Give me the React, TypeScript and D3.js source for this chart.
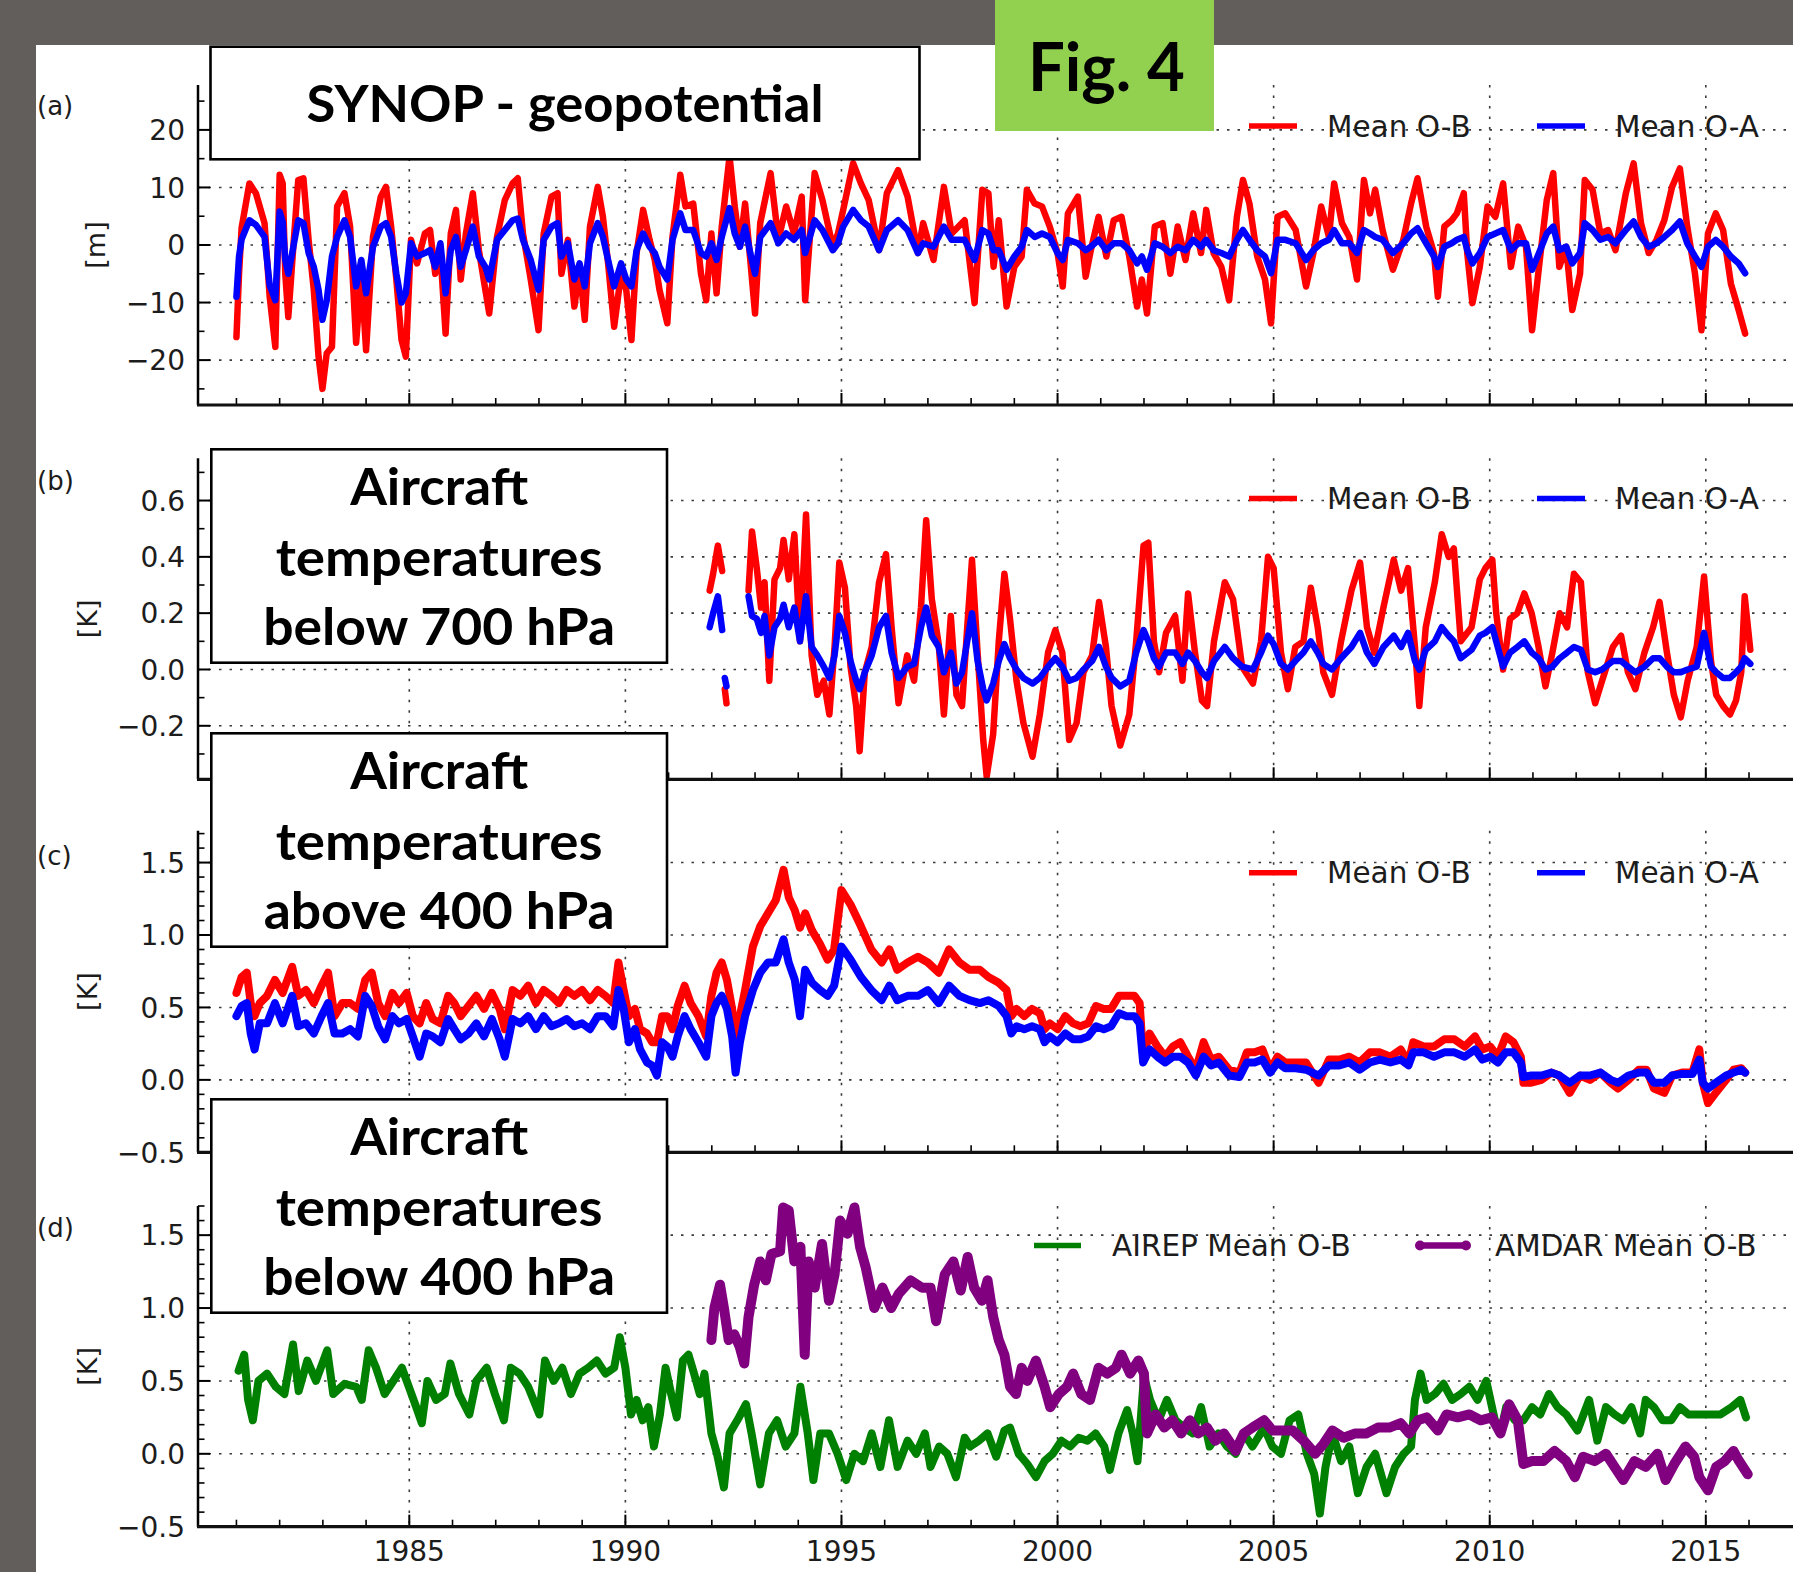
import React from "react";
import * as d3 from "d3";

const WIDTH = 1793;
const HEIGHT = 1572;

const yearTicks = [1985, 1990, 1995, 2000, 2005, 2010, 2015];
const yearMinor = d3.range(1981, 2017).filter((y) => y % 5 !== 0);

// (a) SYNOP geopotential, [m]
const synopYears = [
  1981.0, 1981.06, 1981.12, 1981.3, 1981.45, 1981.65, 1981.77, 1981.9, 1982.0, 1982.07, 1982.13, 1982.2, 1982.3,
  1982.43, 1982.55, 1982.67, 1982.79, 1982.9, 1982.99, 1983.09, 1983.21, 1983.33, 1983.5, 1983.63, 1983.77, 1983.89,
  1984.0, 1984.16, 1984.34, 1984.46, 1984.58, 1984.7, 1984.82, 1984.92, 1985.04, 1985.18, 1985.36, 1985.48, 1985.6,
  1985.72, 1985.84, 1985.96, 1986.08, 1986.19, 1986.31, 1986.47, 1986.61, 1986.76, 1986.85, 1987.03, 1987.21, 1987.39,
  1987.51, 1987.63, 1987.81, 1987.99, 1988.11, 1988.29, 1988.43, 1988.52, 1988.67, 1988.82, 1988.94, 1989.06, 1989.18,
  1989.36, 1989.48, 1989.6, 1989.74, 1989.9, 1990.02, 1990.14, 1990.26, 1990.41, 1990.56, 1990.68, 1990.79, 1990.97,
  1991.09, 1991.27, 1991.39, 1991.57, 1991.75, 1991.87, 1991.99, 1992.11, 1992.23, 1992.41, 1992.53, 1992.65, 1992.77,
  1992.89, 1993.0, 1993.12, 1993.36, 1993.54, 1993.72, 1993.9, 1994.08, 1994.16, 1994.38, 1994.56, 1994.8, 1994.92,
  1995.04, 1995.27, 1995.45, 1995.63, 1995.87, 1996.05, 1996.31, 1996.53, 1996.77, 1996.89, 1997.13, 1997.37, 1997.55,
  1997.85, 1998.08, 1998.26, 1998.4, 1998.52, 1998.64, 1998.82, 1999.0, 1999.17, 1999.29, 1999.47, 1999.64, 1999.82,
  2000.0, 2000.12, 2000.24, 2000.47, 2000.65, 2000.77, 2000.95, 2001.13, 2001.3, 2001.48, 2001.66, 2001.84, 2001.95,
  2002.07, 2002.25, 2002.43, 2002.61, 2002.78, 2002.96, 2003.14, 2003.32, 2003.44, 2003.61, 2003.79, 2003.97, 2004.15,
  2004.29, 2004.44, 2004.62, 2004.8, 2004.94, 2005.09, 2005.27, 2005.51, 2005.75, 2005.92, 2006.1, 2006.28, 2006.4,
  2006.58, 2006.75, 2006.93, 2007.09, 2007.23, 2007.35, 2007.52, 2007.76, 2008.0, 2008.18, 2008.33, 2008.53, 2008.71,
  2008.8, 2008.95, 2009.12, 2009.24, 2009.4, 2009.48, 2009.6, 2009.77, 2009.95, 2010.13, 2010.31, 2010.49, 2010.66,
  2010.84, 2010.98, 2011.14, 2011.32, 2011.47, 2011.61, 2011.77, 2011.91, 2012.09, 2012.2, 2012.38, 2012.56, 2012.74,
  2012.91, 2013.15, 2013.33, 2013.5, 2013.68, 2013.86, 2014.04, 2014.22, 2014.4, 2014.57, 2014.75, 2014.9, 2015.05,
  2015.23, 2015.4, 2015.58, 2015.76, 2015.91,
];
const synopOmB = [
  -16, -5, 3, 10.7, 9, 3.8, -9, -17.7, 12.2, 10.7, -5, -12.5, -2,
  11.3, 11.6, 0.9, -7.8, -19.4, -25, -18.8, -17.7, 6.7, 9, 3.2, -17, -5,
  -18.3, 1.4, 8.4, 10.1, 3.2, -6, -16.5, -19.4, 0.9, -3.2, 2, 2.6, -5,
  -1.4, -15.4, 2, 6.1, -6, 2, 9, -0.9, -7.8, -11.9, 1.4, 7.8, 10.7,
  11.6, 2, -6, -14.8, 2, 8.4, 9, -5, 0.9, -10.7, -3.8, -13, 3.2,
  10.1, 4.9, -3.2, -14.2, -5, -7.8, -16.5, -1.4, 6.1, 0.9, -2.6, -7.8, -13.6,
  1.4, 12.2, 6.7, 7.2, -5, -9.6, 2, -8.4, 3.2, 15.4, 6.7, -0.3, 7.2,
  -2.6, -11.9, 3.8, 12.5, 0.9, 6.7, 2, 8.4, -9.6, 12.5, 7.8, -0.3, 2,
  6.1, 14.2, 10.7, 7.8, -0.9, 9, 13, 8.4, -1.4, 3.8, -2.6, 10.1, 2,
  4.3, -10.1, 9.6, 9, -3.8, 4.3, -10.7, -3.8, -2, 9.6, 7.2, 6.7, 3.2,
  -1.4, -7.2, 5.5, 8.4, -5.5, -0.9, 4.9, -2, 4.3, 4.9, -2, -10.7, -6,
  -11.9, 3.2, 3.8, -5, 3.2, -2.6, 5.5, -1.4, 6.1, -1.4, -3.8, -9.6, 4.9,
  11.3, 7.2, -2, -6, -13.6, 4.9, 5.5, 2.6, -7.2, -1.4, 6.7, 1.4, 10.7,
  3.8, 1.4, -6, 11.3, 5.5, 9.6, 2.6, -4.3, 0.9, 7.2, 11.6, 3.2, -1.4,
  -9, 3.2, 4.3, 5.5, 9, -1.4, -10.1, -3.8, 6.7, 4.9, 10.7, -3.8, 3.2,
  -0.3, -14.8, -3.8, 7.8, 12.5, -3.8, -0.3, -11.3, -5, 11.3, 9.6, 2, 2.6,
  -0.9, 9, 14.2, 3.8, -1.4, 0.9, 4.3, 10.1, 13.3, 3.2, -5, -14.8, 2,
  5.5, 2.6, -6.7, -11.3, -15.4,
];
const synopOmA = [
  -9, -2, 1, 4.3, 3.5, 1.4, -7, -9.6, 5.8, 4, -2.6, -5, -1,
  4.3, 3.8, -1.4, -3.8, -7.8, -13, -9.6, -2, 1.4, 4.3, 1.4, -7.2, -2.6,
  -8.4, -0.3, 3.2, 3.8, 1.4, -5, -10, -8.4, 0.3, -2, -1.4, -0.9, -3.8,
  0.3, -8.4, -0.9, 1.4, -3.8, -0.9, 3.2, -2, -3.8, -6, 0.9, 2.6, 4.3,
  4.6, 0.9, -2.6, -7.8, 0.9, 3.2, 3.8, -2, 0.3, -6, -3.2, -7.2, 0.3,
  3.8, 1.4, -2.6, -7.2, -3.2, -6, -7.2, -0.9, 2, -0.3, -1.4, -3.8, -6,
  0.9, 5.5, 2.6, 2.6, -1.4, -2, 0.3, -2.6, 1.4, 6.4, 2, -0.3, 3.2,
  -1.4, -5, 1.4, 3.8, 0.3, 2, 0.9, 2.6, -1.4, 4.3, 2.6, -0.9, 0.3,
  3.2, 6.1, 4.3, 3.2, -0.9, 2.6, 4.3, 2.6, -1.4, 0.3, -0.3, 3.2, 0.9,
  0.9, -2.6, 2.6, 2, -0.9, -0.9, -4.3, -2, -0.3, 2.6, 1.4, 2, 1.4,
  -1.4, -2.6, 0.9, 0.3, -0.9, -0.3, 0.9, -0.9, 0.3, 0.3, -0.9, -3.2, -2,
  -4.3, 0.3, -0.3, -1.4, -0.3, -0.9, 0.9, -0.3, 0.9, -0.9, -1.4, -2, 0.9,
  2.6, 0.9, -0.9, -2, -4.9, 0.9, 0.9, 0.3, -2.6, -0.9, 0.3, 0.9, 2.6,
  0.3, 0.3, -1.4, 2.6, 2, 1.4, 0.9, -1.4, 0.3, 2, 2.9, 0.3, -2,
  -3.8, -0.3, 0.3, 0.9, 1.4, -0.9, -3.2, -1.4, 1.4, 2, 2.6, -0.9, 0.3,
  0.3, -4.3, -1.4, 2, 3.2, -0.9, -0.3, -3.2, -1.4, 3.8, 2.6, 0.9, 1.4,
  0.3, 2.6, 4.1, 1.4, -0.3, 0.3, 1.4, 2.6, 4.1, 0.3, -2, -3.8, -0.3,
  0.9, -0.3, -2, -3.2, -4.9,
];

// (b) aircraft temperatures below 700 hPa, [K]; NaN marks gaps in the record
const lowYears = [
  1991.95, 1992.03, 1992.14, 1992.24, 1992.27, 1992.3, 1992.34, 1992.37, 1992.85, 1992.93, 1993.04, 1993.14, 1993.22,
  1993.33, 1993.45, 1993.58, 1993.66, 1993.78, 1993.91, 1994.04, 1994.18, 1994.31, 1994.44, 1994.59, 1994.72, 1994.84,
  1994.95, 1995.08, 1995.21, 1995.34, 1995.42, 1995.54, 1995.7, 1995.87, 1996.03, 1996.16, 1996.32, 1996.52, 1996.68,
  1996.84, 1996.96, 1997.09, 1997.25, 1997.37, 1997.53, 1997.66, 1997.79, 1997.91, 1998.02, 1998.15, 1998.28, 1998.36,
  1998.51, 1998.64, 1998.77, 1998.9, 1999.05, 1999.21, 1999.42, 1999.59, 1999.78, 1999.95, 2000.11, 2000.27, 2000.44,
  2000.6, 2000.8, 2000.96, 2001.12, 2001.25, 2001.45, 2001.66, 2001.82, 2001.99, 2002.1, 2002.23, 2002.35, 2002.51,
  2002.72, 2002.89, 2003.02, 2003.18, 2003.34, 2003.46, 2003.62, 2003.87, 2004.06, 2004.27, 2004.52, 2004.71, 2004.87,
  2005.0, 2005.17, 2005.33, 2005.5, 2005.69, 2005.86, 2006.02, 2006.15, 2006.35, 2006.56, 2006.8, 2007.0, 2007.16,
  2007.33, 2007.54, 2007.78, 2007.95, 2008.11, 2008.27, 2008.37, 2008.52, 2008.73, 2008.89, 2009.05, 2009.17, 2009.33,
  2009.58, 2009.77, 2009.9, 2010.06, 2010.15, 2010.31, 2010.47, 2010.64, 2010.8, 2010.97, 2011.13, 2011.29, 2011.45,
  2011.62, 2011.79, 2011.95, 2012.11, 2012.27, 2012.44, 2012.6, 2012.85, 2013.04, 2013.2, 2013.37, 2013.58, 2013.78,
  2013.93, 2014.1, 2014.26, 2014.42, 2014.58, 2014.79, 2014.96, 2015.12, 2015.24, 2015.4, 2015.56, 2015.7, 2015.82,
  2015.9, 2016.03,
];
const lowOmB = [
  0.28, 0.34, 0.44, 0.35, NaN, -0.07, -0.12, NaN, 0.28, 0.49, 0.36, 0.22, 0.31,
  -0.04, 0.32, 0.36, 0.46, 0.32, 0.48, 0.1, 0.55, 0.05, -0.09, -0.04, -0.16, 0.08,
  0.38, 0.29, 0.01, -0.13, -0.29, -0.01, 0.08, 0.31, 0.41, 0.15, -0.12, 0.05, -0.04,
  0.22, 0.53, 0.25, 0.09, -0.16, 0.19, -0.09, -0.13, 0.15, 0.39, 0.06, -0.25, -0.38,
  -0.23, 0.1, 0.34, 0.18, -0.04, -0.19, -0.31, -0.16, 0.06, 0.14, 0.06, -0.25, -0.19,
  -0.01, 0.05, 0.24, 0.08, -0.13, -0.27, -0.16, 0.1, 0.44, 0.45, 0.1, -0.01, 0.13,
  0.19, -0.04, 0.27, 0.06, -0.11, -0.13, 0.1, 0.31, 0.25, 0.01, -0.05, 0.1, 0.4,
  0.36, 0.06, -0.07, 0.08, 0.1, 0.29, 0.15, -0.01, -0.09, 0.1, 0.28, 0.38, 0.15,
  0.06, 0.22, 0.39, 0.28, 0.36, 0.08, -0.13, 0.15, 0.31, 0.48, 0.4, 0.43, 0.1,
  0.15, 0.32, 0.36, 0.39, 0.2, 0.0, 0.18, 0.2, 0.27, 0.2, 0.08, -0.06, 0.06,
  0.2, 0.15, 0.34, 0.31, -0.01, -0.12, -0.04, 0.08, 0.12, -0.01, -0.07, 0.06, 0.15,
  0.24, 0.06, -0.09, -0.17, -0.04, 0.08, 0.33, 0.03, -0.09, -0.13, -0.16, -0.11, -0.01,
  0.26, 0.07,
];
const lowOmA = [
  0.15, 0.2, 0.26, 0.14, NaN, -0.03, -0.06, NaN, 0.26, 0.19, 0.18, 0.13, 0.19,
  0.05, 0.15, 0.18, 0.23, 0.15, 0.22, 0.1, 0.26, 0.08, 0.05, 0.01, -0.03, 0.05,
  0.19, 0.13, 0.03, -0.04, -0.07, -0.01, 0.05, 0.15, 0.19, 0.06, -0.03, 0.01, 0.02,
  0.15, 0.22, 0.12, 0.08, -0.01, 0.06, -0.05, -0.01, 0.1, 0.2, 0.03, -0.07, -0.11,
  -0.05, 0.03, 0.09, 0.04, 0.0, -0.03, -0.05, -0.03, 0.01, 0.04, 0.01, -0.04, -0.03,
  0.0, 0.03, 0.08, 0.01, -0.03, -0.06, -0.04, 0.06, 0.14, 0.1, 0.04, 0.01, 0.06,
  0.06, 0.02, 0.06, 0.03, -0.01, -0.03, 0.03, 0.08, 0.04, 0.01, 0.0, 0.06, 0.12,
  0.09, 0.02, 0.0, 0.03, 0.06, 0.1, 0.06, 0.02, 0.0, 0.04, 0.08, 0.13, 0.06,
  0.02, 0.08, 0.12, 0.08, 0.13, 0.03, 0.0, 0.07, 0.1, 0.15, 0.12, 0.1, 0.04,
  0.07, 0.12, 0.13, 0.15, 0.1, 0.01, 0.06, 0.08, 0.1, 0.06, 0.04, 0.0, 0.01,
  0.04, 0.06, 0.08, 0.07, 0.0, -0.01, 0.0, 0.03, 0.03, 0.01, -0.01, 0.01, 0.04,
  0.04, 0.01, -0.01, -0.01, 0.0, 0.01, 0.13, 0.01, -0.01, -0.03, -0.03, -0.01, 0.01,
  0.04, 0.02,
];

// (c) aircraft temperatures above 400 hPa, [K]
const highYears = [
  1981.0, 1981.12, 1981.24, 1981.33, 1981.42, 1981.54, 1981.71, 1981.89, 1982.07, 1982.29, 1982.43, 1982.61, 1982.79,
  1982.97, 1983.12, 1983.27, 1983.45, 1983.63, 1983.81, 1983.98, 1984.13, 1984.28, 1984.44, 1984.61, 1984.76, 1984.94,
  1985.08, 1985.24, 1985.39, 1985.54, 1985.72, 1985.9, 1986.04, 1986.19, 1986.37, 1986.55, 1986.73, 1986.91, 1987.09,
  1987.21, 1987.39, 1987.57, 1987.75, 1987.93, 1988.11, 1988.29, 1988.46, 1988.64, 1988.82, 1989.0, 1989.18, 1989.36,
  1989.54, 1989.72, 1989.84, 1989.96, 1990.08, 1990.22, 1990.34, 1990.5, 1990.62, 1990.73, 1990.85, 1990.97, 1991.09,
  1991.21, 1991.37, 1991.51, 1991.69, 1991.87, 1991.99, 1992.11, 1992.23, 1992.35, 1992.47, 1992.55, 1992.65, 1992.77,
  1992.95, 1993.12, 1993.3, 1993.48, 1993.66, 1993.78, 1993.92, 1994.04, 1994.16, 1994.32, 1994.5, 1994.68, 1994.83,
  1995.0, 1995.21, 1995.45, 1995.69, 1995.93, 1996.11, 1996.29, 1996.53, 1996.77, 1997.0, 1997.25, 1997.49, 1997.73,
  1997.96, 1998.2, 1998.4, 1998.64, 1998.82, 1998.93, 1999.05, 1999.23, 1999.41, 1999.59, 1999.7, 1999.82, 2000.0,
  2000.18, 2000.36, 2000.53, 2000.71, 2000.89, 2001.07, 2001.24, 2001.42, 2001.6, 2001.78, 2001.9, 2001.98, 2002.13,
  2002.31, 2002.49, 2002.67, 2002.84, 2003.02, 2003.2, 2003.38, 2003.55, 2003.73, 2003.97, 2004.21, 2004.38, 2004.56,
  2004.74, 2004.92, 2005.09, 2005.27, 2005.51, 2005.75, 2006.04, 2006.28, 2006.52, 2006.75, 2006.99, 2007.23, 2007.46,
  2007.7, 2007.94, 2008.12, 2008.23, 2008.47, 2008.71, 2008.95, 2009.18, 2009.42, 2009.66, 2009.83, 2010.01, 2010.19,
  2010.37, 2010.55, 2010.72, 2010.78, 2010.96, 2011.2, 2011.43, 2011.61, 2011.85, 2012.09, 2012.32, 2012.56, 2012.8,
  2012.97, 2013.21, 2013.45, 2013.63, 2013.8, 2014.04, 2014.22, 2014.45, 2014.69, 2014.85, 2014.93, 2015.05, 2015.23,
  2015.47, 2015.64, 2015.82, 2015.91,
];
const highOmB = [
  0.6, 0.71, 0.74, 0.53, 0.44, 0.53, 0.58, 0.69, 0.6, 0.78, 0.58, 0.62, 0.53,
  0.65, 0.74, 0.44, 0.53, 0.53, 0.49, 0.69, 0.74, 0.53, 0.44, 0.6, 0.53, 0.6,
  0.44, 0.39, 0.53, 0.42, 0.39, 0.58, 0.53, 0.44, 0.51, 0.58, 0.49, 0.6, 0.49,
  0.35, 0.62, 0.58, 0.65, 0.53, 0.62, 0.58, 0.53, 0.62, 0.58, 0.62, 0.55, 0.62,
  0.58, 0.53, 0.81, 0.62, 0.44, 0.49, 0.35, 0.32, 0.26, 0.26, 0.44, 0.44, 0.35,
  0.51, 0.65, 0.53, 0.44, 0.3, 0.58, 0.74, 0.81, 0.69, 0.49, 0.26, 0.44, 0.62,
  0.92, 1.06, 1.15, 1.24, 1.45, 1.26, 1.17, 1.05, 1.15, 1.03, 0.94, 0.83, 0.9,
  1.31, 1.21, 1.06, 0.9, 0.81, 0.9, 0.76, 0.81, 0.85, 0.81, 0.74, 0.9, 0.81,
  0.76, 0.76, 0.71, 0.67, 0.62, 0.44, 0.49, 0.44, 0.49, 0.46, 0.35, 0.39, 0.35,
  0.44, 0.39, 0.37, 0.39, 0.51, 0.49, 0.49, 0.58, 0.58, 0.58, 0.53, 0.16, 0.32,
  0.23, 0.16, 0.23, 0.26, 0.16, 0.07, 0.26, 0.14, 0.16, 0.07, 0.05, 0.19, 0.19,
  0.21, 0.07, 0.16, 0.12, 0.12, 0.12, -0.02, 0.14, 0.14, 0.16, 0.12, 0.19, 0.19,
  0.16, 0.21, 0.12, 0.26, 0.23, 0.23, 0.28, 0.28, 0.23, 0.3, 0.21, 0.23, 0.16,
  0.3, 0.26, 0.16, -0.02, -0.02, 0.0, 0.05, 0.03, -0.09, 0.03, 0.0, 0.05, -0.02,
  -0.06, 0.0, 0.07, 0.07, -0.06, -0.09, 0.03, 0.05, 0.05, 0.21, -0.02, -0.16, -0.09,
  0.0, 0.07, 0.08, 0.05,
];
const highOmA = [
  0.44, 0.51, 0.53, 0.32, 0.21, 0.39, 0.39, 0.53, 0.39, 0.58, 0.37, 0.39, 0.32,
  0.44, 0.53, 0.32, 0.32, 0.35, 0.3, 0.58, 0.51, 0.37, 0.28, 0.44, 0.39, 0.42,
  0.3, 0.16, 0.32, 0.3, 0.26, 0.42, 0.35, 0.28, 0.32, 0.39, 0.3, 0.42, 0.28,
  0.16, 0.42, 0.39, 0.44, 0.35, 0.44, 0.37, 0.39, 0.42, 0.37, 0.39, 0.35, 0.44,
  0.44, 0.37, 0.62, 0.49, 0.26, 0.35, 0.21, 0.12, 0.1, 0.03, 0.26, 0.23, 0.16,
  0.3, 0.44, 0.35, 0.26, 0.16, 0.44, 0.53, 0.58, 0.49, 0.3, 0.05, 0.26, 0.44,
  0.62, 0.74, 0.81, 0.81, 0.97, 0.81, 0.69, 0.44, 0.76, 0.67, 0.62, 0.58, 0.65,
  0.92, 0.83, 0.71, 0.62, 0.55, 0.65, 0.55, 0.58, 0.58, 0.62, 0.53, 0.65, 0.58,
  0.55, 0.53, 0.55, 0.51, 0.44, 0.32, 0.37, 0.35, 0.37, 0.35, 0.26, 0.3, 0.26,
  0.32, 0.28, 0.28, 0.3, 0.37, 0.35, 0.37, 0.46, 0.44, 0.44, 0.39, 0.12, 0.21,
  0.16, 0.12, 0.16, 0.16, 0.12, 0.03, 0.16, 0.1, 0.12, 0.03, 0.02, 0.12, 0.12,
  0.14, 0.05, 0.12, 0.08, 0.08, 0.07, 0.03, 0.1, 0.1, 0.12, 0.07, 0.12, 0.14,
  0.12, 0.14, 0.1, 0.19, 0.19, 0.16, 0.19, 0.19, 0.16, 0.21, 0.14, 0.16, 0.12,
  0.19, 0.19, 0.12, 0.02, 0.03, 0.03, 0.05, 0.03, -0.02, 0.03, 0.03, 0.05, 0.0,
  -0.02, 0.03, 0.05, 0.05, -0.02, -0.02, 0.03, 0.04, 0.04, 0.14, -0.02, -0.06, -0.02,
  0.03, 0.05, 0.07, 0.05,
];

// (d) aircraft temperatures below 400 hPa, [K]
const airepYears = [
  1981.05, 1981.18, 1981.27, 1981.38, 1981.51, 1981.71, 1981.91, 1982.11, 1982.31, 1982.44, 1982.64, 1982.84, 1983.1,
  1983.24, 1983.5, 1983.77, 1983.9, 1984.06, 1984.23, 1984.43, 1984.63, 1984.83, 1984.99, 1985.16, 1985.29, 1985.42,
  1985.62, 1985.82, 1985.95, 1986.15, 1986.39, 1986.55, 1986.79, 1986.98, 1987.19, 1987.35, 1987.55, 1987.75, 1988.01,
  1988.14, 1988.34, 1988.54, 1988.74, 1988.94, 1989.14, 1989.34, 1989.54, 1989.74, 1989.87, 1990.0, 1990.13, 1990.26,
  1990.4, 1990.53, 1990.66, 1990.8, 1990.93, 1991.06, 1991.19, 1991.33, 1991.46, 1991.59, 1991.72, 1991.83, 1991.99,
  1992.12, 1992.28, 1992.41, 1992.59, 1992.79, 1992.92, 1993.12, 1993.32, 1993.51, 1993.71, 1993.91, 1994.05, 1994.22,
  1994.35, 1994.51, 1994.71, 1994.91, 1995.11, 1995.3, 1995.5, 1995.7, 1995.9, 1996.1, 1996.3, 1996.53, 1996.73,
  1996.93, 1997.06, 1997.26, 1997.45, 1997.65, 1997.85, 1997.98, 1998.18, 1998.38, 1998.58, 1998.77, 1998.9, 1999.1,
  1999.3, 1999.5, 1999.7, 1999.89, 2000.09, 2000.29, 2000.49, 2000.69, 2000.88, 2001.08, 2001.21, 2001.41, 2001.61,
  2001.74, 2001.85, 2002.0, 2002.14, 2002.34, 2002.53, 2002.73, 2002.93, 2003.13, 2003.32, 2003.52, 2003.72, 2003.92,
  2004.12, 2004.31, 2004.51, 2004.78, 2004.97, 2005.17, 2005.37, 2005.57, 2005.77, 2005.94, 2006.07, 2006.2, 2006.36,
  2006.56, 2006.75, 2006.95, 2007.15, 2007.35, 2007.61, 2007.81, 2008.01, 2008.18, 2008.27, 2008.4, 2008.54, 2008.73,
  2008.93, 2009.13, 2009.33, 2009.53, 2009.72, 2009.92, 2010.12, 2010.25, 2010.38, 2010.58, 2010.78, 2010.98, 2011.17,
  2011.37, 2011.57, 2011.77, 2012.03, 2012.3, 2012.49, 2012.69, 2012.89, 2013.09, 2013.28, 2013.48, 2013.61, 2013.8,
  2014.0, 2014.2, 2014.4, 2014.6, 2014.81, 2015.07, 2015.34, 2015.6, 2015.8, 2015.93,
];
const airepOmB = [
  0.57, 0.68, 0.37, 0.23, 0.5, 0.55, 0.46, 0.41, 0.75, 0.43, 0.64, 0.5, 0.71,
  0.41, 0.48, 0.46, 0.37, 0.71, 0.59, 0.41, 0.5, 0.59, 0.46, 0.32, 0.21, 0.5,
  0.37, 0.41, 0.62, 0.41, 0.27, 0.5, 0.59, 0.41, 0.23, 0.59, 0.55, 0.46, 0.27,
  0.64, 0.5, 0.59, 0.41, 0.55, 0.59, 0.64, 0.55, 0.59, 0.8, 0.59, 0.27, 0.37,
  0.23, 0.32, 0.05, 0.27, 0.59, 0.41, 0.25, 0.64, 0.68, 0.55, 0.41, 0.55, 0.14,
  0.0, -0.23, 0.14, 0.23, 0.34, 0.14, -0.21, 0.14, 0.23, 0.05, 0.14, 0.46, 0.14,
  -0.18, 0.14, 0.14, 0.0, -0.18, 0.0, -0.05, 0.14, -0.09, 0.23, -0.09, 0.09, 0.0,
  0.14, -0.09, 0.05, 0.0, -0.16, 0.11, 0.05, 0.09, 0.14, -0.02, 0.16, 0.18, 0.0,
  -0.07, -0.16, -0.05, 0.0, 0.09, 0.05, 0.11, 0.09, 0.14, 0.05, -0.11, 0.14, 0.3,
  0.14, -0.05, 0.53, 0.37, 0.23, 0.37, 0.23, 0.18, 0.14, 0.32, 0.05, 0.14, 0.05,
  0.0, 0.14, 0.05, 0.18, 0.05, 0.0, 0.23, 0.27, 0.0, -0.14, -0.41, -0.09, 0.14,
  -0.05, 0.05, -0.27, -0.09, 0.0, -0.27, -0.09, 0.0, 0.05, 0.37, 0.55, 0.37, 0.41,
  0.48, 0.37, 0.41, 0.46, 0.37, 0.5, 0.23, 0.14, 0.32, 0.23, 0.23, 0.32, 0.27,
  0.41, 0.32, 0.27, 0.16, 0.37, 0.09, 0.32, 0.27, 0.23, 0.32, 0.14, 0.37, 0.32,
  0.23, 0.23, 0.32, 0.27, 0.27, 0.27, 0.27, 0.32, 0.37, 0.25,
];
const amdarYears = [
  1991.99, 1992.06, 1992.19, 1992.28, 1992.39, 1992.52, 1992.65, 1992.75, 1992.85, 1992.98, 1993.12, 1993.25, 1993.38,
  1993.58, 1993.65, 1993.78, 1993.91, 1994.05, 1994.15, 1994.24, 1994.38, 1994.55, 1994.71, 1994.84, 1994.97, 1995.14,
  1995.3, 1995.43, 1995.56, 1995.76, 1995.95, 1996.15, 1996.33, 1996.6, 1996.86, 1997.06, 1997.19, 1997.39, 1997.59,
  1997.76, 1997.92, 1998.07, 1998.25, 1998.38, 1998.51, 1998.64, 1998.77, 1998.9, 1999.04, 1999.17, 1999.3, 1999.5,
  1999.7, 1999.83, 2000.03, 2000.22, 2000.36, 2000.55, 2000.75, 2000.95, 2001.15, 2001.35, 2001.48, 2001.68, 2001.87,
  2002.0, 2002.07, 2002.27, 2002.47, 2002.66, 2002.86, 2003.06, 2003.26, 2003.46, 2003.65, 2003.85, 2004.12, 2004.31,
  2004.51, 2004.78, 2004.97, 2005.17, 2005.44, 2005.7, 2005.96, 2006.16, 2006.36, 2006.62, 2006.89, 2007.15, 2007.41,
  2007.68, 2007.94, 2008.14, 2008.34, 2008.54, 2008.8, 2009.0, 2009.26, 2009.53, 2009.79, 2010.05, 2010.25, 2010.45,
  2010.65, 2010.78, 2010.98, 2011.24, 2011.5, 2011.77, 2011.97, 2012.16, 2012.43, 2012.69, 2012.89, 2013.09, 2013.35,
  2013.61, 2013.88, 2014.07, 2014.27, 2014.53, 2014.73, 2014.85, 2015.05, 2015.24, 2015.44, 2015.64, 2015.77, 2015.97,
];
const amdarOmB = [
  0.78, 1.0, 1.16, 1.0, 0.78, 0.82, 0.73, 0.62, 0.94, 1.16, 1.32, 1.19, 1.37,
  1.39, 1.69, 1.67, 1.32, 1.42, 0.68, 1.32, 1.14, 1.44, 1.05, 1.23, 1.6, 1.51,
  1.69, 1.42, 1.28, 1.0, 1.14, 1.0, 1.1, 1.19, 1.14, 1.14, 0.91, 1.23, 1.32,
  1.12, 1.35, 1.14, 1.05, 1.19, 0.94, 0.78, 0.68, 0.46, 0.41, 0.59, 0.5, 0.64,
  0.46, 0.32, 0.41, 0.46, 0.55, 0.41, 0.37, 0.59, 0.55, 0.59, 0.68, 0.55, 0.64,
  0.55, 0.14, 0.27, 0.18, 0.23, 0.14, 0.23, 0.14, 0.18, 0.09, 0.14, 0.02, 0.14,
  0.18, 0.23, 0.16, 0.16, 0.16, 0.09, 0.0, 0.07, 0.16, 0.11, 0.14, 0.14, 0.18,
  0.18, 0.21, 0.14, 0.23, 0.25, 0.16, 0.27, 0.25, 0.27, 0.23, 0.25, 0.14, 0.34,
  0.23, -0.07, -0.05, -0.05, 0.02, -0.05, -0.16, -0.02, -0.05, 0.0, -0.09, -0.18, -0.05,
  -0.09, 0.0, -0.18, -0.07, 0.05, -0.02, -0.16, -0.25, -0.09, -0.05, 0.02, -0.05, -0.14,
];

const RED = "#ff0000";
const BLUE = "#0000ff";
const GREEN = "#008000";
const PURPLE = "#800080";

const TICK_FONT = "'DejaVu Sans', sans-serif";
const BOX_FONT = "Lato, 'Open Sans', sans-serif";

const AXIS_LEFT = 198;
const AXIS_RIGHT = WIDTH;

const xScale = d3.scaleLinear().domain([1985, 2015]).range([409.3, 1705.8]);

type Series = { t: number[]; v: number[]; color: string; width: number };
type LegendItem = { label: string; color: string; x1: number; x2: number; tx: number; dots?: boolean; width: number };
type Panel = {
  id: string;
  letter: string;
  letterY: number;
  unit: string;
  unitX: number;
  top: number;
  bottom: number;
  domain: [number, number];
  major: number[];
  minor: number[];
  digits: number;
  series: Series[];
  legendY: number;
  legend: LegendItem[];
  xLabels: boolean;
};

const fmt = (v: number, digits: number) => (v < 0 ? "\u2212" : "") + Math.abs(v).toFixed(digits);
const tenths = (a: number, b: number) => d3.range(Math.round(a * 10), Math.round(b * 10) + 1).map((k) => k / 10);
const halfMinor = tenths(-0.4, 1.7).filter((v) => Math.abs((v * 10) % 5) > 0.01);

const obLegend = (): LegendItem[] => [
  { label: "Mean O-B", color: RED, x1: 1249, x2: 1297, tx: 1327, width: 5.5 },
  { label: "Mean O-A", color: BLUE, x1: 1537, x2: 1585, tx: 1615, width: 5.5 },
];

const panels: Panel[] = [
  {
    id: "a", letter: "(a)", letterY: 115, unit: "[m]", unitX: 95.6, top: 85, bottom: 405,
    domain: [-27.8, 27.8], major: [-20, -10, 0, 10, 20], minor: [-25, -15, -5, 5, 15, 25], digits: 0,
    series: [
      { t: synopYears, v: synopOmB, color: RED, width: 6.5 },
      { t: synopYears, v: synopOmA, color: BLUE, width: 6.5 },
    ],
    legendY: 126, legend: obLegend(), xLabels: false,
  },
  {
    id: "b", letter: "(b)", letterY: 490, unit: "[K]", unitX: 87.5, top: 458.3, bottom: 779.3,
    domain: [-0.39, 0.75], major: [-0.2, 0, 0.2, 0.4, 0.6], minor: [-0.3, -0.1, 0.1, 0.3, 0.5, 0.7], digits: 1,
    series: [
      { t: lowYears, v: lowOmB, color: RED, width: 6.5 },
      { t: lowYears, v: lowOmA, color: BLUE, width: 6.5 },
    ],
    legendY: 498.5, legend: obLegend(), xLabels: false,
  },
  {
    id: "c", letter: "(c)", letterY: 864.5, unit: "[K]", unitX: 87.5, top: 830.7, bottom: 1152.3,
    domain: [-0.5, 1.72], major: [-0.5, 0, 0.5, 1.0, 1.5], minor: halfMinor, digits: 1,
    series: [
      { t: highYears, v: highOmB, color: RED, width: 8 },
      { t: highYears, v: highOmA, color: BLUE, width: 8 },
    ],
    legendY: 872.7, legend: obLegend(), xLabels: false,
  },
  {
    id: "d", letter: "(d)", letterY: 1236.5, unit: "[K]", unitX: 87.5, top: 1206, bottom: 1526.7,
    domain: [-0.5, 1.7], major: [-0.5, 0, 0.5, 1.0, 1.5], minor: halfMinor, digits: 1,
    series: [
      { t: airepYears, v: airepOmB, color: GREEN, width: 8 },
      { t: amdarYears, v: amdarOmB, color: PURPLE, width: 10 },
    ],
    legendY: 1245.5,
    legend: [
      { label: "AIREP Mean O-B", color: GREEN, x1: 1034, x2: 1081, tx: 1112, width: 5.5 },
      { label: "AMDAR Mean O-B", color: PURPLE, x1: 1420, x2: 1466, tx: 1495, width: 6.5, dots: true },
    ],
    xLabels: true,
  },
];

const GRID = { stroke: "#3a3a3a", strokeWidth: 1.6, strokeDasharray: "2.5 8" };

function PanelView({ p }: { p: Panel }) {
  const y = d3.scaleLinear().domain(p.domain).range([p.bottom, p.top]);
  const clipId = `clip-${p.id}`;
  const gridValues = p.major.filter((v) => y(v) < p.bottom - 2);
  return (
    <g>
      <defs>
        <clipPath id={clipId}>
          <rect x={AXIS_LEFT} y={p.top - 4} width={AXIS_RIGHT - AXIS_LEFT} height={p.bottom - p.top + 4} />
        </clipPath>
      </defs>
      {/* dotted grid */}
      {yearTicks.map((yr) => (
        <line key={`gx${yr}`} x1={xScale(yr)} x2={xScale(yr)} y1={p.top} y2={p.bottom} {...GRID} />
      ))}
      {gridValues.map((v) => (
        <line key={`gy${v}`} x1={AXIS_LEFT} x2={AXIS_RIGHT} y1={y(v)} y2={y(v)} {...GRID} />
      ))}
      {/* series */}
      <g clipPath={`url(#${clipId})`}>
        {p.series.map((s, i) => {
          const line = d3
            .line<number>()
            .defined((d) => !isNaN(d))
            .x((_, k) => xScale(s.t[k]))
            .y((d) => y(d));
          return (
            <path
              key={i}
              d={line(s.v) || ""}
              fill="none"
              stroke={s.color}
              strokeWidth={s.width}
              strokeLinejoin="round"
              strokeLinecap="round"
            />
          );
        })}
      </g>
      {/* ticks */}
      {p.major.map((v) => (
        <line key={`ty${v}`} x1={AXIS_LEFT} x2={AXIS_LEFT + 12} y1={y(v)} y2={y(v)} stroke="#000" strokeWidth={2} />
      ))}
      {p.minor.map((v) => (
        <line key={`tym${v}`} x1={AXIS_LEFT} x2={AXIS_LEFT + 6.5} y1={y(v)} y2={y(v)} stroke="#000" strokeWidth={1.6} />
      ))}
      {yearTicks.map((yr) => (
        <line key={`tx${yr}`} x1={xScale(yr)} x2={xScale(yr)} y1={p.bottom} y2={p.bottom - 12} stroke="#000" strokeWidth={2} />
      ))}
      {yearMinor.map((yr) => (
        <line key={`txm${yr}`} x1={xScale(yr)} x2={xScale(yr)} y1={p.bottom} y2={p.bottom - 7} stroke="#000" strokeWidth={1.6} />
      ))}
      {/* spines */}
      <line x1={AXIS_LEFT} x2={AXIS_LEFT} y1={p.top} y2={p.bottom} stroke="#000" strokeWidth={2.5} />
      <line x1={AXIS_LEFT - 1} x2={AXIS_RIGHT} y1={p.bottom} y2={p.bottom} stroke="#111" strokeWidth={3.2} />
      {/* tick labels */}
      {p.major.map((v) => (
        <text key={`ly${v}`} x={185} y={y(v) + 10.2} textAnchor="end" fontFamily={TICK_FONT} fontSize={28} fill="#1c1c1c">
          {fmt(v, p.digits)}
        </text>
      ))}
      {p.xLabels &&
        yearTicks.map((yr) => (
          <text key={`lx${yr}`} x={xScale(yr)} y={1561} textAnchor="middle" fontFamily={TICK_FONT} fontSize={28} fill="#1c1c1c">
            {yr}
          </text>
        ))}
      {/* panel letter and unit */}
      <text x={37} y={p.letterY} fontFamily={TICK_FONT} fontSize={26} fill="#1c1c1c">
        {p.letter}
      </text>
      <text
        transform={`translate(${p.unitX},${(p.top + p.bottom) / 2}) rotate(-90)`}
        textAnchor="middle"
        dy={9.5}
        fontFamily={TICK_FONT}
        fontSize={27}
        fill="#1c1c1c"
      >
        {p.unit}
      </text>
      {/* legend */}
      {p.legend.map((it) => (
        <g key={it.label}>
          <line x1={it.x1} x2={it.x2} y1={p.legendY} y2={p.legendY} stroke={it.color} strokeWidth={it.width} />
          {it.dots && (
            <>
              <circle cx={it.x1} cy={p.legendY} r={5} fill={it.color} />
              <circle cx={it.x2} cy={p.legendY} r={5} fill={it.color} />
            </>
          )}
          <text x={it.tx} y={p.legendY + 10.5} fontFamily={TICK_FONT} fontSize={29.5} fill="#1c1c1c">
            {it.label}
          </text>
        </g>
      ))}
    </g>
  );
}

type TitleBox = { x: number; y: number; w: number; h: number; lines: { text: string; dy: number; len: number }[] };

const titleBoxes: TitleBox[] = [
  { x: 210.5, y: 46.7, w: 709, h: 112.6, lines: [{ text: "SYNOP - geopotential", dy: 75.5, len: 517 }] },
  {
    x: 211.3, y: 449.3, w: 455.7, h: 213.4,
    lines: [
      { text: "Aircraft", dy: 55.7, len: 178 },
      { text: "temperatures", dy: 126.7, len: 327 },
      { text: "below 700 hPa", dy: 195.7, len: 352 },
    ],
  },
  {
    x: 211.3, y: 733.3, w: 455.7, h: 213.4,
    lines: [
      { text: "Aircraft", dy: 55.7, len: 178 },
      { text: "temperatures", dy: 126.7, len: 327 },
      { text: "above 400 hPa", dy: 195.7, len: 351 },
    ],
  },
  {
    x: 211.3, y: 1099.3, w: 455.7, h: 213.4,
    lines: [
      { text: "Aircraft", dy: 55.7, len: 178 },
      { text: "temperatures", dy: 126.7, len: 327 },
      { text: "below 400 hPa", dy: 195.7, len: 352 },
    ],
  },
];

export default function App() {
  return (
    <div style={{ position: "absolute", left: 0, top: 0, width: WIDTH, height: HEIGHT }}>
      <svg width={WIDTH} height={HEIGHT} viewBox={`0 0 ${WIDTH} ${HEIGHT}`} style={{ display: "block" }}>
        <rect x={0} y={0} width={WIDTH} height={HEIGHT} fill="#625e5c" />
        <rect x={36} y={45} width={WIDTH - 36} height={HEIGHT - 45} fill="#ffffff" />
        {panels.map((p) => (
          <PanelView key={p.id} p={p} />
        ))}
        {titleBoxes.map((b, i) => (
          <g key={i}>
            <rect x={b.x} y={b.y} width={b.w} height={b.h} fill="#fff" stroke="#000" strokeWidth={2.6} />
            {b.lines.map((l) => (
              <text
                key={l.text}
                x={b.x + b.w / 2}
                y={b.y + l.dy}
                textAnchor="middle"
                fontFamily={BOX_FONT}
                fontWeight={700}
                fontSize={51}
                textLength={l.len}
                lengthAdjust="spacingAndGlyphs"
                fill="#000"
              >
                {l.text}
              </text>
            ))}
          </g>
        ))}
        <rect x={995} y={0} width={219} height={131} fill="#92d050" />
        <text
          x={1106.4}
          y={90.7}
          textAnchor="middle"
          fontFamily={BOX_FONT}
          fontWeight={700}
          fontSize={66}
          textLength={157}
          lengthAdjust="spacingAndGlyphs"
          fill="#000"
        >
          Fig. 4
        </text>
      </svg>
    </div>
  );
}
